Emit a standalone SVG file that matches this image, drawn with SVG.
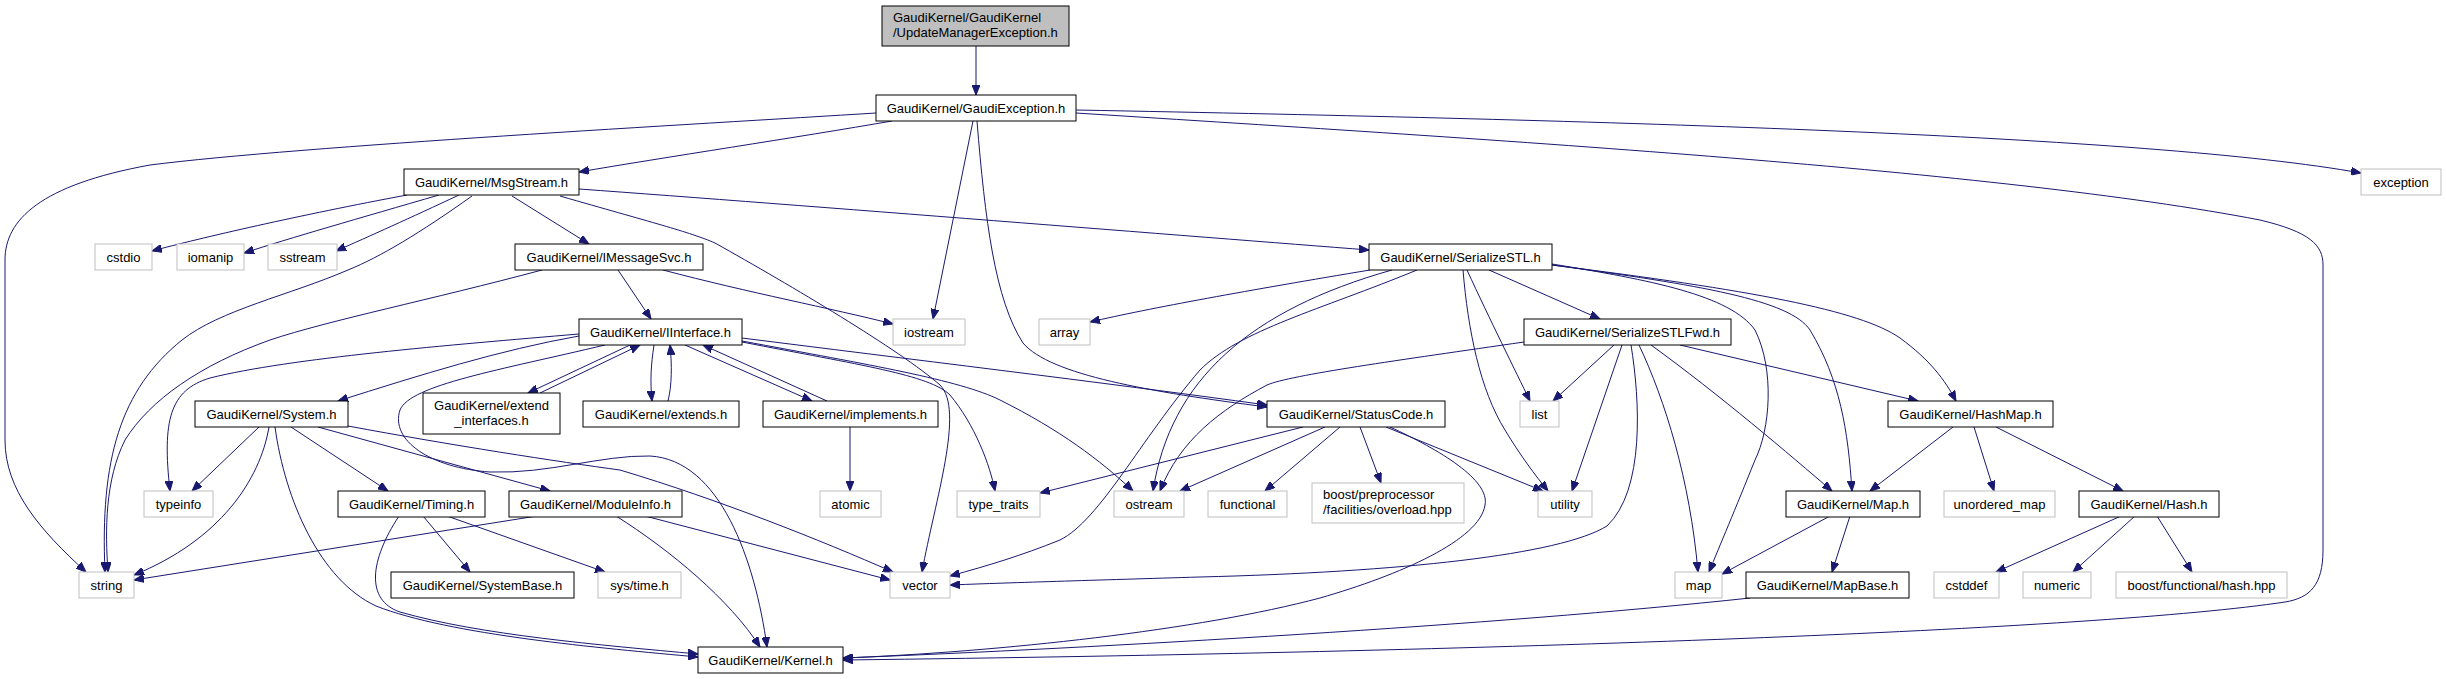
<svg xmlns="http://www.w3.org/2000/svg" width="2446" height="679" viewBox="0 0 2446 679">
<style>
text{font-family:"Liberation Sans",Arial,sans-serif;font-size:13px;fill:#000;text-anchor:middle}
.d rect{fill:#fff;stroke:#000;stroke-width:1}
.u rect{fill:#fff;stroke:#bfbfbf;stroke-width:1}
.r rect{fill:#bfbfbf;stroke:#000;stroke-width:1}
.l{text-anchor:start}
#edges path{fill:none;stroke:#191970;stroke-width:1;marker-end:url(#a)}
</style>
<defs>
<marker id="a" markerWidth="11" markerHeight="8" refX="10" refY="4" orient="auto" markerUnits="userSpaceOnUse"><path d="M0,0 L10,4 L0,8 z" fill="#191970" stroke="#191970" stroke-width="1"/></marker>
</defs>
<rect width="2446" height="679" fill="#fff"/>
<g id="edges">
<path d="M976,46 L976,95"/>
<path d="M892,121 C800,137 660,158 579,172"/>
<path d="M876,113 C700,124 300,146 150,165 C40,185 5,220 5,260 L5,440 C5,490 40,530 86,572"/>
<path d="M1076,110 C1600,120 2150,135 2361,173"/>
<path d="M973,121 L933,319"/>
<path d="M977,121 C985,220 995,300 1023,343 C1050,375 1150,392 1267,407"/>
<path d="M1076,113 C1500,140 2000,170 2260,220 C2310,232 2323,245 2323,265 L2323,550 C2323,585 2310,598 2285,602 C2100,630 1500,652 843,660"/>
<path d="M407,195 C300,215 200,238 152,251"/>
<path d="M439,195 C360,218 290,238 244,253"/>
<path d="M459,195 C410,218 370,236 336,251"/>
<path d="M472,196 C420,233 380,257 348,270 C290,295 220,310 182,340 C120,390 100,460 105,572"/>
<path d="M512,196 L589,244"/>
<path d="M579,189 C800,205 1200,237 1369,250"/>
<path d="M560,196 C650,222 690,232 715,243 C790,285 900,350 940,385 C965,410 935,500 922,572"/>
<path d="M542,270 C430,300 330,320 270,340 C200,365 150,400 125,440 C105,480 105,530 108,572"/>
<path d="M618,270 L651,319"/>
<path d="M663,270 C750,293 830,308 893,324"/>
<path d="M579,336 C500,350 420,375 338,401"/>
<path d="M579,334 C450,345 290,358 210,378 C170,390 162,420 170,491"/>
<path d="M605,345 C500,370 410,385 400,410 C390,440 430,468 490,472 C550,474 600,455 650,456 C720,460 755,560 767,647"/>
<path d="M630,345 L528,393"/>
<path d="M540,393 L640,345"/>
<path d="M654,345 C651,365 650,380 652,401"/>
<path d="M668,401 C672,385 672,365 670,345"/>
<path d="M685,345 L812,401"/>
<path d="M827,401 L703,345"/>
<path d="M742,338 C900,358 1100,382 1267,405"/>
<path d="M742,342 C860,365 930,375 950,395 C975,425 990,465 995,491"/>
<path d="M742,341 C870,365 960,380 1000,400 C1060,430 1100,460 1133,491"/>
<path d="M259,427 L192,491"/>
<path d="M269,427 C260,480 220,540 134,575"/>
<path d="M275,427 C285,500 320,580 376,606 C450,635 600,648 698,657"/>
<path d="M291,427 L388,491"/>
<path d="M318,427 L550,491"/>
<path d="M348,426 C450,445 560,462 620,470 C720,500 820,540 893,572"/>
<path d="M423,516 L470,572"/>
<path d="M447,516 L605,572"/>
<path d="M399,516 C370,560 365,600 400,612 C480,635 600,645 698,654"/>
<path d="M537,516 L134,580"/>
<path d="M616,516 C670,550 730,600 760,647"/>
<path d="M645,516 L890,580"/>
<path d="M850,427 L850,491"/>
<path d="M1303,427 L1040,493"/>
<path d="M1325,427 L1180,491"/>
<path d="M1340,427 L1265,491"/>
<path d="M1360,427 L1381,483"/>
<path d="M1386,427 L1543,491"/>
<path d="M1390,427 C1440,450 1490,480 1485,505 C1480,540 1400,575 1320,598 C1200,630 1000,652 843,658"/>
<path d="M1370,270 C1250,290 1150,308 1090,322"/>
<path d="M1392,270 C1250,310 1170,380 1153,491"/>
<path d="M1417,270 C1320,310 1240,330 1200,370 C1140,440 1100,520 1060,540 C1020,556 990,565 950,576"/>
<path d="M1467,270 C1490,320 1515,370 1530,401"/>
<path d="M1463,270 C1468,330 1480,390 1505,430 C1520,455 1535,475 1548,491"/>
<path d="M1489,270 L1600,319"/>
<path d="M1552,264 C1650,280 1730,295 1755,330 C1775,370 1770,430 1755,460 C1735,510 1720,545 1709,572"/>
<path d="M1552,265 C1700,285 1790,300 1810,330 C1840,380 1848,430 1852,491"/>
<path d="M1552,265 C1750,290 1860,310 1900,338 C1930,360 1945,380 1956,401"/>
<path d="M1524,342 C1400,360 1290,375 1267,385 C1220,410 1180,440 1160,491"/>
<path d="M1614,345 L1553,401"/>
<path d="M1622,345 L1572,491"/>
<path d="M1631,345 C1640,400 1645,490 1607,526 C1560,555 1400,572 1200,577 C1100,580 1000,583 950,585"/>
<path d="M1639,345 C1665,400 1690,480 1698,572"/>
<path d="M1651,345 C1720,395 1790,455 1832,491"/>
<path d="M1680,345 L1918,401"/>
<path d="M1830,516 L1722,574"/>
<path d="M1850,516 L1832,572"/>
<path d="M1750,598 C1500,625 1100,648 843,658"/>
<path d="M1953,427 L1870,491"/>
<path d="M1974,427 L1994,491"/>
<path d="M1996,427 L2123,491"/>
<path d="M2121,516 L1996,572"/>
<path d="M2135,516 L2073,572"/>
<path d="M2157,516 L2192,572"/>
</g>
<g id="n_top" class="r"><rect x="882" y="6" width="187" height="40"/><text class="l" x="893" y="22">GaudiKernel/GaudiKernel</text><text class="l" x="893" y="37">/UpdateManagerException.h</text></g>
<g id="n_ge" class="d"><rect x="876" y="95" width="200" height="26"/><text x="976" y="112.5">GaudiKernel/GaudiException.h</text></g>
<g id="n_ms" class="d"><rect x="404" y="169" width="175" height="26"/><text x="491.5" y="186.5">GaudiKernel/MsgStream.h</text></g>
<g id="n_exc" class="u"><rect x="2361" y="169" width="80" height="26"/><text x="2401" y="186.5">exception</text></g>
<g id="n_cstdio" class="u"><rect x="95" y="244" width="57" height="26"/><text x="123.5" y="261.5">cstdio</text></g>
<g id="n_iomanip" class="u"><rect x="177" y="244" width="67" height="26"/><text x="210.5" y="261.5">iomanip</text></g>
<g id="n_sstream" class="u"><rect x="268" y="244" width="69" height="26"/><text x="302.5" y="261.5">sstream</text></g>
<g id="n_ims" class="d"><rect x="515" y="244" width="188" height="26"/><text x="609" y="261.5">GaudiKernel/IMessageSvc.h</text></g>
<g id="n_sstl" class="d"><rect x="1369" y="244" width="183" height="26"/><text x="1460.5" y="261.5">GaudiKernel/SerializeSTL.h</text></g>
<g id="n_ii" class="d"><rect x="579" y="319" width="163" height="26"/><text x="660.5" y="336.5">GaudiKernel/IInterface.h</text></g>
<g id="n_iostream" class="u"><rect x="893" y="319" width="72" height="26"/><text x="929" y="336.5">iostream</text></g>
<g id="n_array" class="u"><rect x="1039" y="319" width="51" height="26"/><text x="1064.5" y="336.5">array</text></g>
<g id="n_fwd" class="d"><rect x="1524" y="319" width="207" height="26"/><text x="1627.5" y="336.5">GaudiKernel/SerializeSTLFwd.h</text></g>
<g id="n_sys" class="d"><rect x="195" y="401" width="153" height="26"/><text x="271.5" y="418.5">GaudiKernel/System.h</text></g>
<g id="n_ext" class="d"><rect x="423" y="393" width="137" height="41"/><text x="491.5" y="410">GaudiKernel/extend</text><text x="491.5" y="425">_interfaces.h</text></g>
<g id="n_extends" class="d"><rect x="583" y="401" width="156" height="26"/><text x="661" y="418.5">GaudiKernel/extends.h</text></g>
<g id="n_impl" class="d"><rect x="763" y="401" width="175" height="26"/><text x="850.5" y="418.5">GaudiKernel/implements.h</text></g>
<g id="n_sc" class="d"><rect x="1267" y="401" width="178" height="26"/><text x="1356" y="418.5">GaudiKernel/StatusCode.h</text></g>
<g id="n_list" class="u"><rect x="1520" y="401" width="39" height="26"/><text x="1539.5" y="418.5">list</text></g>
<g id="n_hm" class="d"><rect x="1888" y="401" width="165" height="26"/><text x="1970.5" y="418.5">GaudiKernel/HashMap.h</text></g>
<g id="n_typeinfo" class="u"><rect x="144" y="491" width="69" height="26"/><text x="178.5" y="508.5">typeinfo</text></g>
<g id="n_timing" class="d"><rect x="338" y="491" width="147" height="26"/><text x="411.5" y="508.5">GaudiKernel/Timing.h</text></g>
<g id="n_mi" class="d"><rect x="509" y="491" width="173" height="26"/><text x="595.5" y="508.5">GaudiKernel/ModuleInfo.h</text></g>
<g id="n_atomic" class="u"><rect x="820" y="491" width="61" height="26"/><text x="850.5" y="508.5">atomic</text></g>
<g id="n_tt" class="u"><rect x="957" y="491" width="83" height="26"/><text x="998.5" y="508.5">type_traits</text></g>
<g id="n_ostream" class="u"><rect x="1114" y="491" width="70" height="26"/><text x="1149" y="508.5">ostream</text></g>
<g id="n_functional" class="u"><rect x="1208" y="491" width="79" height="26"/><text x="1247.5" y="508.5">functional</text></g>
<g id="n_boostpp" class="u"><rect x="1312" y="483" width="152" height="40"/><text class="l" x="1323" y="499">boost/preprocessor</text><text class="l" x="1323" y="514">/facilities/overload.hpp</text></g>
<g id="n_utility" class="u"><rect x="1538" y="491" width="54" height="26"/><text x="1565" y="508.5">utility</text></g>
<g id="n_maph" class="d"><rect x="1786" y="491" width="134" height="26"/><text x="1853" y="508.5">GaudiKernel/Map.h</text></g>
<g id="n_um" class="u"><rect x="1944" y="491" width="111" height="26"/><text x="1999.5" y="508.5">unordered_map</text></g>
<g id="n_hash" class="d"><rect x="2079" y="491" width="140" height="26"/><text x="2149" y="508.5">GaudiKernel/Hash.h</text></g>
<g id="n_string" class="u"><rect x="79" y="572" width="55" height="26"/><text x="106.5" y="589.5">string</text></g>
<g id="n_sb" class="d"><rect x="391" y="572" width="183" height="26"/><text x="482.5" y="589.5">GaudiKernel/SystemBase.h</text></g>
<g id="n_systime" class="u"><rect x="598" y="572" width="83" height="26"/><text x="639.5" y="589.5">sys/time.h</text></g>
<g id="n_vector" class="u"><rect x="890" y="572" width="60" height="26"/><text x="920" y="589.5">vector</text></g>
<g id="n_map" class="u"><rect x="1675" y="572" width="47" height="26"/><text x="1698.5" y="589.5">map</text></g>
<g id="n_mb" class="d"><rect x="1746" y="572" width="163" height="26"/><text x="1827.5" y="589.5">GaudiKernel/MapBase.h</text></g>
<g id="n_cstddef" class="u"><rect x="1934" y="572" width="65" height="26"/><text x="1966.5" y="589.5">cstddef</text></g>
<g id="n_numeric" class="u"><rect x="2023" y="572" width="68" height="26"/><text x="2057" y="589.5">numeric</text></g>
<g id="n_bfh" class="u"><rect x="2116" y="572" width="171" height="26"/><text x="2201.5" y="589.5">boost/functional/hash.hpp</text></g>
<g id="n_kernel" class="d"><rect x="698" y="647" width="145" height="26"/><text x="770.5" y="664.5">GaudiKernel/Kernel.h</text></g>
</svg>
